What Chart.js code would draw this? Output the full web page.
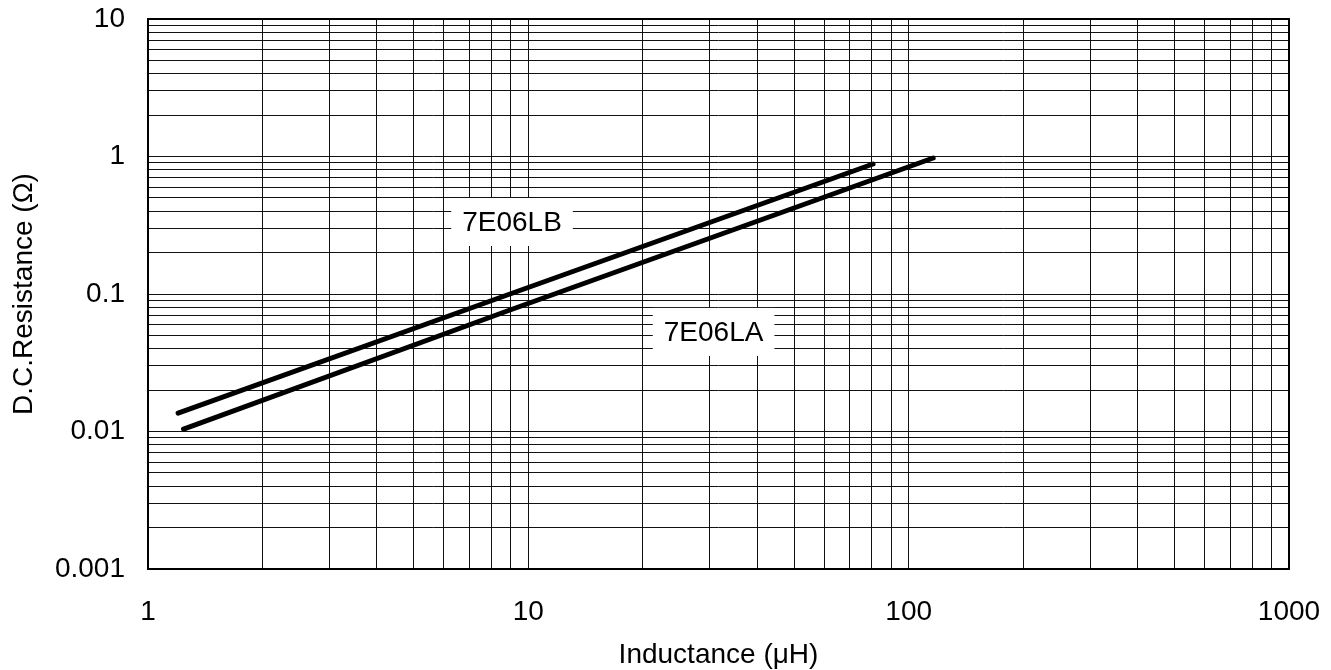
<!DOCTYPE html>
<html>
<head>
<meta charset="utf-8">
<script src="https://cdn.jsdelivr.net/npm/chart.js@4.4.1/dist/chart.umd.min.js"></script>
<style>
  html, body { margin: 0; padding: 0; background: #fff; }
  #wrap { width: 1331px; height: 670px; position: relative; }
</style>
</head>
<body>
<div id="wrap"><canvas id="myChart"></canvas></div>
<script>
'use strict';

// series (inductance in uH, resistance in ohm)
const seriesNames = ['7E06LB', '7E06LA'];
const lbInductance = [1.2, 8.95, 80.6];
const lbResistance = [0.0136, 0.1, 0.882];
const laInductance = [1.24, 8.95, 116];
const laResistance = [0.0104, 0.0765, 0.975];

// where the series labels sit, in data units
const labelInductance = [9.06, 30.7];
const labelResistance = [0.334, 0.053];

const xMajor = [1, 10, 100, 1000];
const yMajor = [0.001, 0.01, 0.1, 1, 10];

const FONT = "'Liberation Sans', Arial, sans-serif";

// every 1..9 step inside each decade, for the grid
function logSteps(majors) {
  const out = [];
  for (let i = 0; i < majors.length; i++) {
    const m = majors[i];
    if (i === majors.length - 1) { out.push(m); break; }
    for (let k = 1; k < 10; k++) out.push(+(m * k).toPrecision(6));
  }
  return out;
}

function toPoints(xs, ys) {
  return xs.map((x, i) => ({ x: x, y: ys[i] }));
}

function majorLabel(list) {
  return function (value) {
    const hit = list.find(m => Math.abs(m - value) / m < 1e-6);
    return hit === undefined ? '' : String(hit);
  };
}

// chart.js adds label overhang + tick padding round the plot; the layout padding does that job here
function noOverhang(s) {
  s.paddingTop = 0;
  s.paddingBottom = 0;
  s.paddingLeft = 0;
  s.paddingRight = 0;
}

// frame round the plot + the boxed series names
const framePlugin = {
  id: 'frame',
  afterDraw(chart) {
    const ctx = chart.ctx;
    const a = chart.chartArea;
    const xs = chart.scales.x, ys = chart.scales.y;
    ctx.save();
    ctx.strokeStyle = '#000';
    ctx.lineWidth = 2;
    ctx.strokeRect(a.left, a.top, a.right - a.left, a.bottom - a.top);

    ctx.font = '28px ' + FONT;
    ctx.textAlign = 'center';
    ctx.textBaseline = 'middle';
    seriesNames.forEach((name, i) => {
      const px = xs.getPixelForValue(labelInductance[i]);
      const py = ys.getPixelForValue(labelResistance[i]);
      const w = ctx.measureText(name).width + 22;
      ctx.fillStyle = '#fff';
      ctx.fillRect(px - w / 2, py - 24, w, 48);
      ctx.fillStyle = '#000';
      ctx.fillText(name, px, py + 1);
    });
    ctx.restore();
  }
};

const ctx = document.getElementById('myChart').getContext('2d');

let myObj = {
  type: 'line',
  data: {
    datasets: [
      {
        label: seriesNames[0],
        data: toPoints(lbInductance, lbResistance),
        borderColor: '#000',
        borderWidth: 5,
        borderCapStyle: 'round',
        pointRadius: 0,
        fill: false
      },
      {
        label: seriesNames[1],
        data: toPoints(laInductance, laResistance),
        borderColor: '#000',
        borderWidth: 5,
        borderCapStyle: 'round',
        pointRadius: 0,
        fill: false
      }
    ]
  },
  options: {
    responsive: true,
    maintainAspectRatio: false,
    animation: false,
    layout: { padding: { top: 19, right: 42, left: 0, bottom: 0 } },
    plugins: {
      legend: { display: false },
      tooltip: { enabled: false }
    },
    scales: {
      x: {
        type: 'logarithmic',
        min: 1,
        max: 1000,
        afterBuildTicks: s => { s.ticks = logSteps(xMajor).map(v => ({ value: v })); },
        afterFit: s => { s.height = 101; noOverhang(s); },
        grid: { color: '#111', lineWidth: 1, drawTicks: false },
        border: { display: false },
        ticks: {
          autoSkip: false,
          maxRotation: 0,
          padding: 26,
          color: '#000',
          font: { family: FONT, size: 28 },
          callback: majorLabel(xMajor)
        },
        title: {
          display: true,
          text: 'Inductance (\u03bcH)',
          color: '#000',
          font: { family: FONT, size: 28, lineHeight: 1 },
          padding: { top: 0, bottom: 1 }
        }
      },
      y: {
        type: 'logarithmic',
        min: 0.001,
        max: 10,
        afterBuildTicks: s => { s.ticks = logSteps(yMajor).map(v => ({ value: v })); },
        afterFit: s => { s.width = 148; noOverhang(s); },
        grid: { color: '#111', lineWidth: 1, drawTicks: false },
        border: { display: false },
        ticks: {
          autoSkip: false,
          padding: 23,
          color: '#000',
          font: { family: FONT, size: 28 },
          callback: majorLabel(yMajor)
        },
        title: {
          display: true,
          text: 'D.C.Resistance (\u03a9)',
          color: '#000',
          font: { family: FONT, size: 28, lineHeight: 1 },
          padding: { top: 10, bottom: 0 }
        }
      }
    }
  },
  plugins: [framePlugin]
};

new Chart(ctx, myObj);
</script>
</body>
</html>
